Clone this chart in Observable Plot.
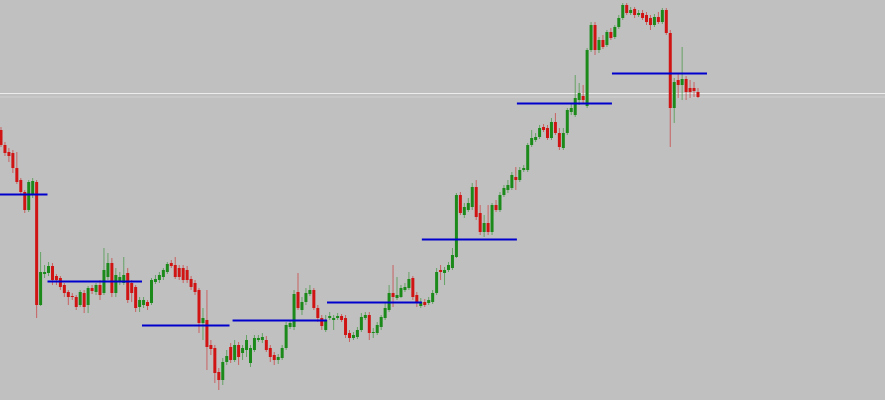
<!DOCTYPE html>
<html><head><meta charset="utf-8">
<script src="https://cdn.jsdelivr.net/npm/d3@7"></script>
<script src="https://cdn.jsdelivr.net/npm/@observablehq/plot@0.6"></script>
<style>html,body{margin:0;padding:0;background:#c0c0c0;overflow:hidden}#chart svg{display:block}</style>
</head><body><div id="chart"></div>
<script>
// OHLC prices (arbitrary price units), one per bar
const opens=[270,255,248,247,232,220,208,190,205,218,95,126,127,134,124,122,115,108,104,103,95,107,95,112,108,115,107,123,137,107,118,117,127,117,113,93,95,98,97,118,120,123,128,137,135,132,132,130,121,117,110,77,80,55,52,28,20,38,53,40,55,47,50,37,50,60,60,60,52,45,40,42,52,73,73,108,90,98,106,110,92,82,70,82,80,82,84,82,67,62,63,70,82,85,67,67,73,82,90,107,102,103,110,112,122,105,94,98,97,98,107,130,127,130,132,143,205,185,190,193,213,187,168,177,168,195,190,205,210,212,223,220,230,230,255,260,263,273,272,262,278,267,252,267,288,285,300,304,294,350,375,350,360,355,368,363,373,382,395,387,391,385,387,385,382,375,383,378,390,367,292,320,315,321,312,312,308];
const highs=[273,258,252,250,248,222,210,220,222,220,148,135,138,137,126,124,117,110,107,105,110,110,114,115,117,120,152,147,142,132,128,143,132,120,115,103,103,100,122,125,128,132,138,140,143,135,135,134,124,120,112,92,110,60,55,32,42,50,57,60,58,55,65,55,65,65,67,64,55,48,46,55,78,80,110,127,103,112,115,112,95,85,85,88,85,87,86,85,70,68,73,87,88,88,72,78,85,97,115,135,123,115,117,128,124,108,102,101,103,110,132,135,133,138,152,207,208,197,202,217,220,195,185,195,197,200,208,215,220,228,233,233,235,257,270,267,275,276,275,282,287,272,272,292,296,325,317,315,352,378,378,363,365,370,372,375,385,397,397,393,393,390,390,388,385,386,388,392,392,370,322,327,353,324,320,318,312];
const lows=[253,244,238,227,216,206,187,188,202,82,94,122,124,115,115,110,103,95,100,90,93,87,87,106,105,100,105,120,103,103,115,115,97,98,88,88,92,90,95,116,117,120,126,132,121,120,117,117,110,105,67,60,30,45,17,10,15,35,37,38,35,40,43,33,48,58,57,48,38,35,36,40,50,71,70,90,85,95,104,90,78,70,68,80,70,80,78,62,58,60,61,68,80,60,62,65,70,80,88,93,100,102,108,110,100,93,92,93,95,96,105,120,115,128,130,142,185,182,188,190,180,165,163,165,165,188,188,203,207,210,210,218,228,228,253,258,261,268,260,260,265,250,250,265,285,283,295,297,292,348,345,347,351,353,360,361,371,380,385,385,382,383,380,375,370,373,376,376,365,253,277,302,300,300,302,303,302];
const closes=[255,247,244,232,218,208,190,218,219,95,128,128,134,120,120,113,107,103,103,93,108,93,112,109,115,105,130,137,107,125,123,125,100,107,92,100,100,94,120,121,125,130,136,134,123,123,120,120,113,108,77,82,53,51,27,20,38,44,40,55,43,52,60,52,62,62,63,50,43,40,43,52,75,77,106,92,98,107,110,92,82,74,80,84,82,84,80,65,62,65,70,83,85,67,68,75,83,92,107,103,105,112,113,121,103,97,98,95,100,107,128,128,130,135,145,205,187,193,197,213,183,168,177,168,195,190,205,212,215,225,220,230,232,255,262,263,272,270,262,278,267,253,267,290,292,302,307,300,350,375,350,360,353,368,362,373,382,395,387,390,385,387,382,378,375,383,378,390,367,292,318,315,321,308,308,309,303];

// Daily pivot segments: bar-index start/end and price level
const pivotStart=[-0.13,11.87,35.73,58.6,82.45,106.4,130.4,154.4];
const pivotEnd=[11.87,35.73,57.83,82.45,106.4,130.4,154.4,178.4];
const pivotLevel=[206,119,75,80,98,161,297,327];

// current bid / ask price lines
const bidPrice=307;
const askPrice=303.5;

const candles=opens.map((o,i)=>({i,open:o,high:highs[i],low:lows[i],close:closes[i]}));
const pivots=pivotLevel.map((v,k)=>({start:pivotStart[k],end:pivotEnd[k],level:v}));

const UP="#1b8a1b", DOWN="#d01414";
const isUp=d=>d.close>=d.open;
const isDown=d=>d.close<d.open;

const chart=Plot.plot({
  width:885,height:400,margin:0,
  x:{domain:[-0.126,223.35],axis:null},
  y:{domain:[0,400],axis:null},
  style:{background:"#c0c0c0"},
  marks:[
    Plot.ruleY([bidPrice],{stroke:"#ececec",strokeWidth:1}),
    Plot.ruleY([askPrice],{stroke:"#d0d0d0",strokeWidth:1}),
    Plot.ruleX(candles,{filter:isUp,x:"i",y1:"low",y2:"high",stroke:UP,strokeOpacity:0.55,strokeWidth:1}),
    Plot.ruleX(candles,{filter:isDown,x:"i",y1:"low",y2:"high",stroke:DOWN,strokeOpacity:0.55,strokeWidth:1}),
    Plot.ruleX(candles,{filter:isUp,x:"i",y1:"open",y2:"close",stroke:UP,strokeWidth:3}),
    Plot.ruleX(candles,{filter:isDown,x:"i",y1:"open",y2:"close",stroke:DOWN,strokeWidth:3}),
    Plot.ruleY(pivots,{y:"level",x1:"start",x2:"end",stroke:"#0000cc",strokeWidth:2})
  ]
});
document.getElementById("chart").appendChild(chart);
</script>
</body></html>
